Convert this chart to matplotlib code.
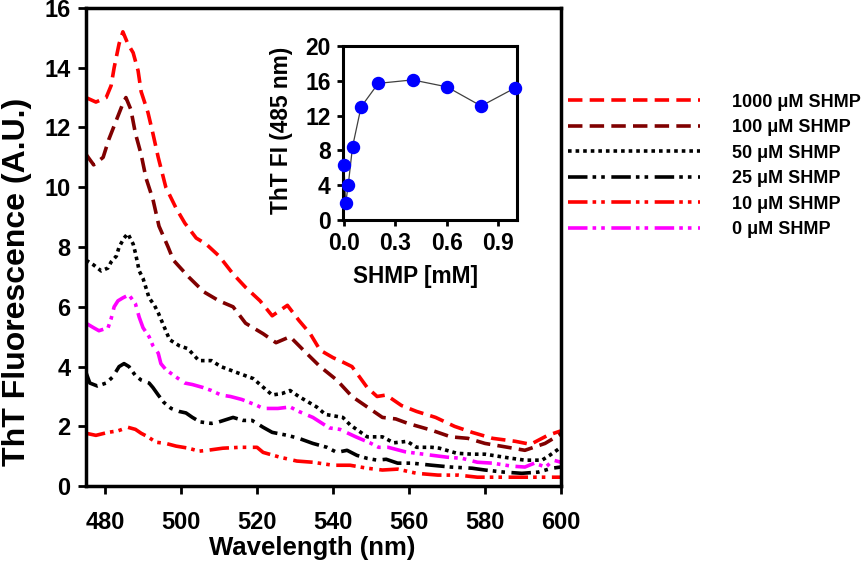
import matplotlib
matplotlib.use("Agg")
import matplotlib.pyplot as plt

plt.rcParams['font.family'] = ['Liberation Sans', 'DejaVu Sans']
plt.rcParams['font.weight'] = 'bold'

# main spectra (wavelength in nm, fluorescence in A.U.)
wl_1000 = [475, 477.6, 480.3, 481.6, 482.4, 483.7, 484.7, 486, 487.4, 488.7, 489.5, 491.3, 492.6, 494,
           496, 498.7, 501, 504, 506.6, 510, 513.7, 517, 520.8, 524, 528, 531, 534, 536.6, 540, 542.6,
           545, 547, 549, 551.6, 554, 558, 562, 567, 572, 576.6, 582, 588, 592, 596.5, 600]
fl_1000 = [13.0, 12.85, 13.0, 13.4, 14.0, 14.8, 15.2, 14.8, 14.5, 13.9, 13.2, 12.5, 11.8, 11.0,
           10.0, 9.3, 8.8, 8.3, 8.1, 7.7, 7.1, 6.65, 6.2, 5.7, 6.05, 5.55, 5.1, 4.55, 4.3, 4.15,
           4.0, 3.65, 3.3, 3.0, 3.05, 2.7, 2.5, 2.3, 2.0, 1.8, 1.6, 1.5, 1.4, 1.7, 1.85]

wl_100 = [475, 477, 479.5, 481, 483, 484.7, 485.5, 486.8, 488, 489.5, 490.8, 492.6, 494.2, 496.6,
          498, 502, 506, 510, 513.7, 517, 521.6, 525, 528.7, 533, 536.6, 541, 545, 549, 553, 556.5,
          559.7, 566, 571, 575.5, 580, 586, 590.5, 595.8, 600]
fl_100 = [11.1, 10.75, 11.0, 11.6, 12.25, 12.8, 13.0, 12.6, 11.8, 11.1, 10.3, 9.6, 8.7, 8.0,
          7.56, 7.0, 6.5, 6.2, 6.0, 5.45, 5.1, 4.8, 5.0, 4.45, 4.0, 3.55, 3.0, 2.65, 2.3, 2.25,
          2.1, 1.87, 1.65, 1.6, 1.43, 1.3, 1.2, 1.43, 1.75]

wl_50 = [475, 477, 479, 480.8, 481.6, 483, 483.7, 485, 486, 487.4, 488, 489, 490, 491.6, 493, 494,
         496, 497, 499.5, 501.8, 504.7, 508, 510.5, 514.7, 519, 520.8, 524, 526.6, 528.7, 531,
         535.7, 538, 542.6, 544.5, 549, 553, 556, 559.5, 562, 566, 568, 572.6, 576.6, 580, 586,
         590.5, 595, 597, 600]
fl_50 = [7.56, 7.4, 7.2, 7.3, 7.5, 7.7, 8.0, 8.3, 8.45, 8.1, 7.8, 7.2, 6.95, 6.3, 6.05, 5.8,
         5.2, 4.9, 4.7, 4.6, 4.2, 4.2, 4.0, 3.8, 3.6, 3.4, 3.05, 3.1, 3.2, 3.0,
         2.65, 2.4, 2.3, 2.05, 1.65, 1.65, 1.45, 1.5, 1.3, 1.3, 1.27, 1.1, 1.07, 1.07, 0.95,
         0.87, 0.87, 1.03, 1.3]

wl_25 = [475, 476, 478, 480.3, 482, 483.7, 485, 486.3, 488, 489.5, 491.6, 492.6, 494, 495.5, 497.4,
         499.5, 501.3, 503, 505, 508, 510, 513.7, 516.3, 518.7, 521.6, 524, 528, 531, 534.7, 538.4,
         541, 543.7, 546.3, 549, 551.6, 554, 557, 560.8, 566, 571, 576.6, 580, 585, 589.7, 594,
         597.6, 600]
fl_25 = [3.8, 3.45, 3.35, 3.45, 3.65, 4.0, 4.1, 4.0, 3.7, 3.55, 3.45, 3.3, 3.05, 2.8, 2.6,
         2.5, 2.45, 2.3, 2.15, 2.1, 2.15, 2.3, 2.2, 2.2, 1.97, 1.8, 1.7, 1.6, 1.43, 1.3,
         1.13, 1.2, 1.03, 0.93, 0.87, 0.9, 0.77, 0.77, 0.7, 0.64, 0.6, 0.54, 0.47, 0.43, 0.47,
         0.6, 0.64]

wl_10 = [475, 477.6, 480.8, 483.4, 486, 488, 489.5, 491.3, 493.4, 496, 498.7, 502, 504.7, 507, 511,
         515.5, 520, 521.6, 526, 530.5, 534.7, 540, 544.5, 549, 553, 557, 562, 567.6, 573, 578,
         584.5, 588.7, 592, 596.5, 600]
fl_10 = [1.77, 1.7, 1.8, 1.85, 1.97, 1.9, 1.77, 1.65, 1.47, 1.43, 1.34, 1.27, 1.17, 1.2, 1.27,
         1.3, 1.3, 1.13, 0.97, 0.84, 0.8, 0.7, 0.7, 0.6, 0.54, 0.57, 0.43, 0.37, 0.37, 0.3,
         0.3, 0.3, 0.3, 0.3, 0.3]

wl_0 = [475, 477, 478.4, 480.8, 481.6, 482.4, 483.4, 484.7, 486.3, 488, 489, 490, 491.6, 492.6, 494,
        494.7, 496, 498.7, 501, 503, 505.8, 508, 510.5, 513, 516, 520, 521.6, 525.5, 528.7, 531,
        534.7, 539, 541.8, 546, 549.7, 552, 554.5, 559, 562, 565, 570, 574, 578, 582, 587, 590.5,
        593, 596, 598, 600]
fl_0 = [5.45, 5.3, 5.2, 5.3, 5.6, 6.0, 6.2, 6.3, 6.4, 6.1, 5.65, 5.3, 5.0, 4.7, 4.45,
        4.1, 3.9, 3.65, 3.45, 3.4, 3.3, 3.2, 3.05, 3.0, 2.9, 2.7, 2.6, 2.6, 2.65, 2.5,
        2.3, 1.95, 1.9, 1.65, 1.45, 1.3, 1.3, 1.15, 1.1, 1.05, 0.97, 0.93, 0.8, 0.77, 0.67, 0.64,
        0.77, 0.64, 0.87, 0.8]

# inset: ThT FI at 485 nm vs SHMP concentration
shmp_mM = [0.0, 0.01, 0.025, 0.05, 0.1, 0.2, 0.4, 0.6, 0.8, 1.0]
fi_485 = [6.3, 1.9, 4.0, 8.4, 13.0, 15.7, 16.1, 15.3, 13.1, 15.2]

dash_long = (0, (4, 2))
dotted = (0, (1, 1.1))
dash_dot_dot = (0, (5.4, 1.4, 1, 1.4, 1, 1.8))

series = [
    (wl_1000, fl_1000, '1000 \u03bcM SHMP', '#ff0000', dash_long),
    (wl_100, fl_100, '100 \u03bcM SHMP', '#800000', dash_long),
    (wl_50, fl_50, '50 \u03bcM SHMP', 'black', dotted),
    (wl_25, fl_25, '25 \u03bcM SHMP', 'black', dash_dot_dot),
    (wl_10, fl_10, '10 \u03bcM SHMP', '#ff0000', dash_dot_dot),
    (wl_0, fl_0, '0 \u03bcM SHMP', '#ff00ff', dash_dot_dot),
]

fig = plt.figure(figsize=(8.62, 5.64), dpi=100)
ax = fig.add_axes([0.0998, 0.138, 0.551, 0.848])

for x, y, lab, col, ls in series:
    ax.plot(x, y, color=col, linestyle=ls, linewidth=2.6, label=lab)

ax.set_xlim(475, 600)
ax.set_ylim(0, 16)
ax.set_xticks(range(480, 601, 20))
ax.set_yticks(range(0, 17, 2))
ax.tick_params(direction='out', length=6, width=2, labelsize=17)
ax.tick_params(axis='x', pad=12)
ax.tick_params(axis='y', pad=5)
for s in ax.spines.values():
    s.set_linewidth(2.5)
ax.set_xlabel('Wavelength (nm)', fontsize=18.5, fontweight='bold')
ax.set_ylabel('ThT Fluorescence (A.U.)', fontsize=23, fontweight='bold')
ax.xaxis.set_label_coords(0.476, -0.105)
ax.yaxis.set_label_coords(-0.114, 0.427)

fig.legend(loc='upper left', bbox_to_anchor=(0.659, 0.834), frameon=False,
           handlelength=7.3, handletextpad=1.77, labelspacing=0.47,
           borderpad=0, borderaxespad=0,
           prop={'weight': 'bold', 'size': 13})

ins = fig.add_axes([0.398, 0.610, 0.202, 0.3085])
ins.plot(shmp_mM, fi_485, color='#404040', linewidth=0.9, zorder=1)
ins.scatter(shmp_mM, fi_485, s=75, color='#0000ff', zorder=3, clip_on=False)
ins.set_xlim(-0.005, 1.01)
ins.set_ylim(0, 20)
ins.set_xticks([0.0, 0.3, 0.6, 0.9])
ins.set_xticklabels(['0.0', '0.3', '0.6', '0.9'])
ins.set_yticks(range(0, 21, 4))
ins.tick_params(direction='out', length=4, width=2, labelsize=16.5, pad=5)
for s in ins.spines.values():
    s.set_linewidth(2.2)
ins.set_xlabel('SHMP [mM]', fontsize=16.3, fontweight='bold')
ins.set_ylabel('ThT FI (485 nm)', fontsize=16.3, fontweight='bold')
ins.xaxis.set_label_coords(0.414, -0.259)
ins.yaxis.set_label_coords(-0.287, 0.517)

fig.savefig('out.png', dpi=100)
